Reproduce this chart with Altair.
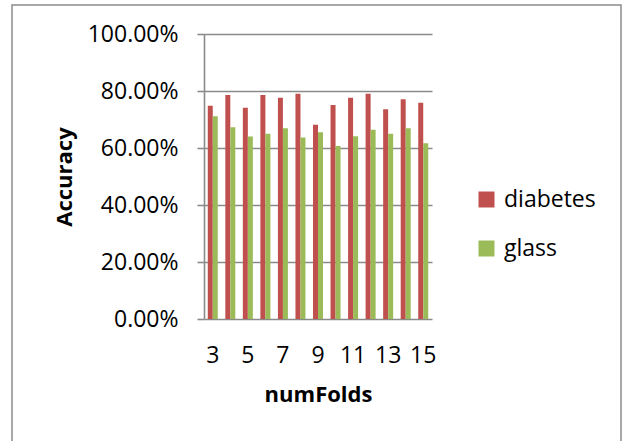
import altair as alt
import pandas as pd

folds = ["3", "4", "5", "6", "7", "8", "9", "10", "11", "12", "13", "14", "15"]
diabetes = [74.8, 78.6, 74.1, 78.6, 77.6, 79.0, 68.2, 75.1, 77.6, 79.0, 73.6, 77.1, 75.9]
glass = [71.1, 67.3, 64.0, 65.0, 66.9, 63.7, 65.5, 60.7, 64.1, 66.4, 65.0, 66.9, 61.7]
series = ["diabetes", "glass"]
x_tick_labels = ["3", "5", "7", "9", "11", "13", "15"]
y_ticks = [0, 0.2, 0.4, 0.6, 0.8, 1.0]

rows = []
for i, f in enumerate(folds):
    rows.append({"numFolds": f, "series": "diabetes", "acc": diabetes[i] / 100})
    rows.append({"numFolds": f, "series": "glass", "acc": glass[i] / 100})
df = pd.DataFrame(rows)

FONT = "Open Sans"
GRID = "#8a8a8a"

bars = alt.Chart(df).mark_bar().encode(
    x=alt.X("numFolds:N", sort=folds,
            scale=alt.Scale(paddingInner=0.43, paddingOuter=0.215),
            axis=alt.Axis(values=x_tick_labels, labelAngle=0, ticks=False, tickSize=0,
                          domain=False, labelPadding=36, labelBaseline="middle",
                          labelFontSize=23, labelFont=FONT, labelColor="#000000",
                          title="numFolds", titleFont=FONT, titleFontSize=22,
                          titleFontWeight="bold", titleColor="#000000",
                          titleX=114, titleY=75, titleBaseline="middle",
                          titleAlign="center")),
    xOffset=alt.XOffset("series:N", sort=series),
    y=alt.Y("acc:Q", scale=alt.Scale(domain=[0, 1], nice=False),
            axis=alt.Axis(values=y_ticks, format=".2%", grid=True, gridColor=GRID,
                          gridWidth=1.6, domain=True, domainColor=GRID, domainWidth=1.6,
                          ticks=True, tickSize=7, tickColor=GRID, tickWidth=1.6,
                          labelPadding=19, labelFontSize=23, labelFont=FONT,
                          labelColor="#000000",
                          title="Accuracy", titleFont=FONT, titleFontSize=22,
                          titleFontWeight="bold", titleColor="#000000",
                          titleAngle=-90, titleX=-140, titleY=142.5,
                          titleAlign="center", titleBaseline="middle")),
    color=alt.Color("series:N", sort=series,
                    scale=alt.Scale(domain=series, range=["#C0504D", "#9BBB59"]),
                    legend=alt.Legend(title=None, orient="none", legendX=271, legendY=154,
                                      symbolType="square", symbolSize=256,
                                      symbolStrokeWidth=0, labelFontSize=23,
                                      labelFont=FONT, labelColor="#000000",
                                      labelOffset=6, rowPadding=25)),
)

border = alt.Chart(alt.Data(values=[{"a": 1}])).mark_rect(
    fill=None, stroke="#8c8c8c", strokeWidth=1.5
).encode(
    x=alt.value(-192), x2=alt.value(417), y=alt.value(-29), y2=alt.value(430)
)

chart = alt.layer(border, bars).properties(
    width=228, height=285,
    padding={"left": 204, "top": 34, "right": 191, "bottom": 122},
    autosize=alt.AutoSizeParams(type="none"),
    background="#ffffff",
).configure_view(stroke=None)

chart.save("out.html", embed_options={"renderer": "svg", "actions": False})
